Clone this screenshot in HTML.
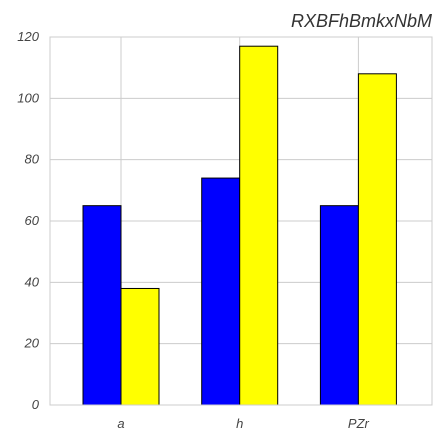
<!DOCTYPE html>
<html><head><meta charset="utf-8"><style>
body{margin:0;background:#fff}
svg{display:block;font-family:"Liberation Sans",sans-serif}
</style></head><body>
<svg id="chart" width="444" height="444" viewBox="0 0 444 444">
<rect x="0" y="0" width="444" height="444" fill="#fff"/>
<g id="grid"></g>
<g id="bars"></g>
<g id="labels"></g>
<rect x="50" y="37" width="382" height="368" fill="none" stroke="#cccccc" stroke-width="1"/>
<text x="432" y="27" text-anchor="end" font-size="18" font-style="italic" fill="#333">RXBFhBmkxNbM</text>
</svg>
<script>
const categories = ["a","h","PZr"];
const seriesBlue = [65,74,65];
const seriesYellow = [38,117,108];
const yTicks = [0,20,40,60,80,100,120];
const NS="http://www.w3.org/2000/svg";
const top0=37,bot=405,yMax=120;
function y(v){return bot-(v/yMax)*(bot-top0);}
function xc(i){return 121+118.7*i;}
const bw=38;
const grid=document.getElementById('grid'),bars=document.getElementById('bars'),labels=document.getElementById('labels');
function mk(tag,attrs,parent){const e=document.createElementNS(NS,tag);for(const k in attrs)e.setAttribute(k,attrs[k]);parent.appendChild(e);return e;}
yTicks.forEach(t=>{
  const l=mk('line',{x1:50,x2:432,y1:y(t),y2:y(t),stroke:'#cccccc','stroke-width':1},grid);
  
  
  const tx=mk('text',{x:39,y:y(t)+4,'text-anchor':'end','font-size':13,'font-style':'italic',fill:'#444'},labels);
  tx.textContent=t;
  
  
});
categories.forEach((c,i)=>{
  const g=mk('line',{x1:xc(i),x2:xc(i),y1:top0,y2:bot,stroke:'#cccccc','stroke-width':1},grid);
  
  
  const b=mk('rect',{x:xc(i)-bw,y:y(seriesBlue[i]),width:bw,height:bot-y(seriesBlue[i]),fill:'#0000ff',stroke:'#000','stroke-width':1},bars);
  
  
  const yb=mk('rect',{x:xc(i),y:y(seriesYellow[i]),width:bw,height:bot-y(seriesYellow[i]),fill:'#ffff00',stroke:'#000','stroke-width':1},bars);
  
  
  const tx=mk('text',{x:xc(i),y:428,'text-anchor':'middle','font-size':13,'font-style':'italic',fill:'#444'},labels);
  tx.textContent=c;
  
  
});
</script>
</body></html>
